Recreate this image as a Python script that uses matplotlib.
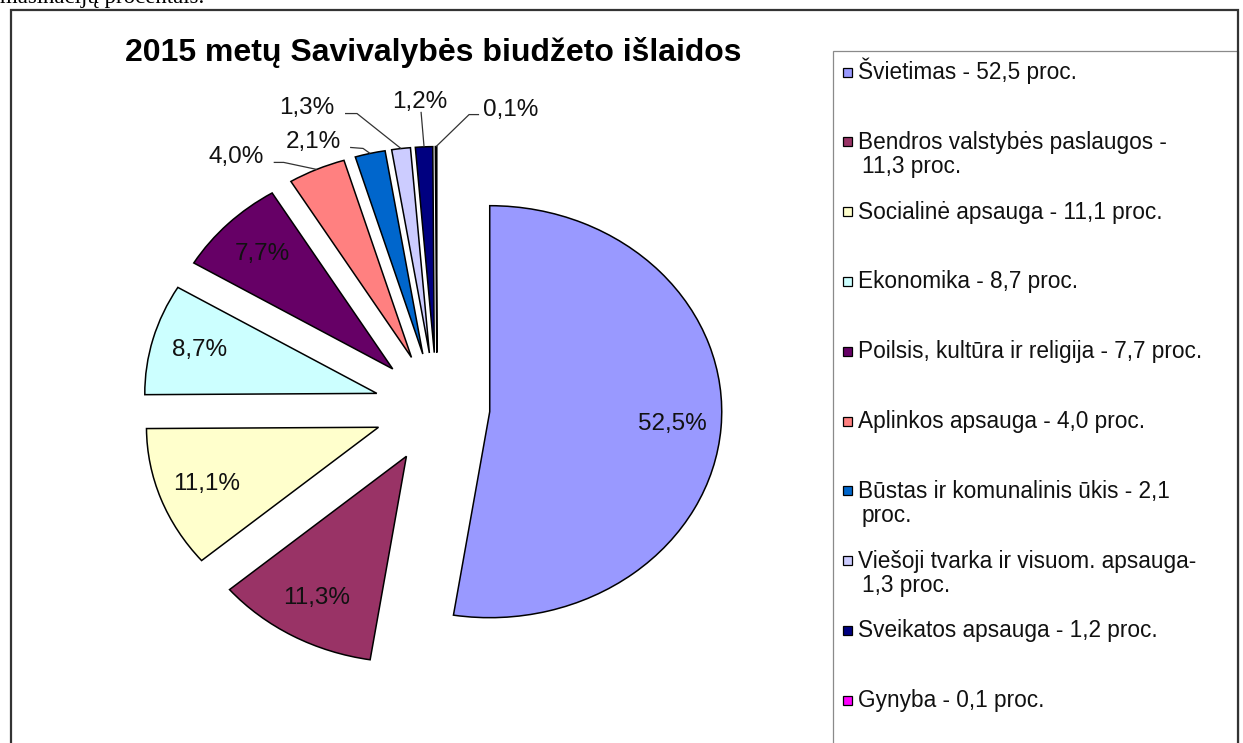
import numpy as np
import matplotlib
matplotlib.use("Agg")
import matplotlib.pyplot as plt
from matplotlib.patches import Rectangle

# ---------------- data ----------------
title = "2015 metų Savivalybės biudžeto išlaidos"
legend_labels = [
    "Švietimas - 52,5 proc.",
    "Bendros valstybės paslaugos -\n11,3 proc.",
    "Socialinė apsauga - 11,1 proc.",
    "Ekonomika - 8,7 proc.",
    "Poilsis, kultūra ir religija - 7,7 proc.",
    "Aplinkos apsauga - 4,0 proc.",
    "Būstas ir komunalinis ūkis - 2,1\nproc.",
    "Viešoji tvarka ir visuom. apsauga-\n1,3 proc.",
    "Sveikatos apsauga - 1,2 proc.",
    "Gynyba - 0,1 proc.",
]
values = [52.5, 11.3, 11.1, 8.7, 7.7, 4.0, 2.1, 1.3, 1.2, 0.1]
colors = ["#9999FF", "#993366", "#FFFFCC", "#CCFFFF", "#660066",
          "#FF8080", "#0066CC", "#CCCCFF", "#000080", "#FF00FF"]
explode = [0.228, 0.269, 0.269, 0.269, 0.269, 0.269, 0.269, 0.269, 0.269, 0.269]

# leader-line layout for small slices (pixel offsets from slice outer point)
# index: (knee offset, end offset, text offset)
outside_layout = {
    5: ((-33, -7), (-43, -7), (-81, -12)),
    6: ((-7, -5), (-20, -6), (-57, -11)),
    7: ((-44, -35), (-56, -35), (-94, -41)),
    8: ((-3, -35), (-3, -35), (-4, -45)),
    9: ((33, -32), (43, -32), (75, -37)),
}

SANS = ["Liberation Sans", "DejaVu Sans"]
SERIF = ["Liberation Serif", "DejaVu Serif"]

W, H = 1243, 743
CX, CY, SX, SY = 437, 408, 232, 206   # pie centre (px) and x/y radius (px)

fig = plt.figure(figsize=(W / 100, H / 100), dpi=100)
fig.patch.set_facecolor("white")


def fx(x):
    return x / W


def fy(y):
    return 1 - y / H


def pct_text(v):
    return f"{v:.1f}%".replace(".", ",")


def fmt(p):
    return pct_text(p) if p >= 5 else ""


ax = fig.add_axes([0, 0, 1, 1])
wedges, texts, autotexts = ax.pie(
    values, colors=colors, explode=explode, startangle=90, counterclock=False,
    radius=1, autopct=fmt, pctdistance=0.79,
    wedgeprops=dict(edgecolor="black", linewidth=1.1),
    textprops=dict(fontsize=17.5, family=SANS, color="#111111"),
)
ax.set_aspect("auto")
ax.set_xlim(-CX / SX, (W - CX) / SX)
ax.set_ylim((CY - H) / SY, CY / SY)
ax.axis("off")

# outside labels with leader lines
for i, (knee, end, toff) in outside_layout.items():
    w = wedges[i]
    tm = np.deg2rad((w.theta1 + w.theta2) / 2)
    ox = w.center[0] + w.r * np.cos(tm)
    oy = w.center[1] + w.r * np.sin(tm)
    xs = [ox, ox + knee[0] / SX, ox + end[0] / SX]
    ys = [oy, oy - knee[1] / SY, oy - end[1] / SY]
    ax.plot(xs, ys, color="#333333", lw=0.9, solid_capstyle="butt")
    ax.text(ox + toff[0] / SX, oy - toff[1] / SY, pct_text(values[i]),
            ha="center", va="center", fontsize=17.5, family=SANS, color="#111111")

# title
fig.text(fx(433), fy(61), title, ha="center", va="baseline",
         fontsize=23, fontweight="bold", family=SANS, color="black")

# cut-off text from the document above
fig.text(fx(0), fy(3), "mašinacijų procentais.", ha="left", va="baseline",
         fontsize=16.5, family=SERIF, color="black")

# legend box
fig.add_artist(Rectangle((fx(833), fy(800)), (1238 - 833) / W, (800 - 51) / H,
                         transform=fig.transFigure, fill=False,
                         edgecolor="#8a8a8a", lw=0.9))
for i, lab in enumerate(legend_labels):
    yc = 72 + 69.8 * i
    fig.add_artist(Rectangle((fx(843), fy(yc + 4.5)), 9 / W, 9 / H,
                             transform=fig.transFigure, facecolor=colors[i],
                             edgecolor="black", lw=0.9))
    for k, line in enumerate(lab.split("\n")):
        xl = 858 if k == 0 else 862
        fig.text(fx(xl), fy(yc + 7 + 24.5 * k), line, ha="left", va="baseline",
                 fontsize=16.3, family=SANS, color="#111111")

# outer chart frame
fig.add_artist(Rectangle((fx(11), fy(800)), (1238 - 11) / W, (800 - 10) / H,
                         transform=fig.transFigure, fill=False,
                         edgecolor="#333333", lw=1.6))

fig.savefig("out.png", dpi=100, facecolor="white")
